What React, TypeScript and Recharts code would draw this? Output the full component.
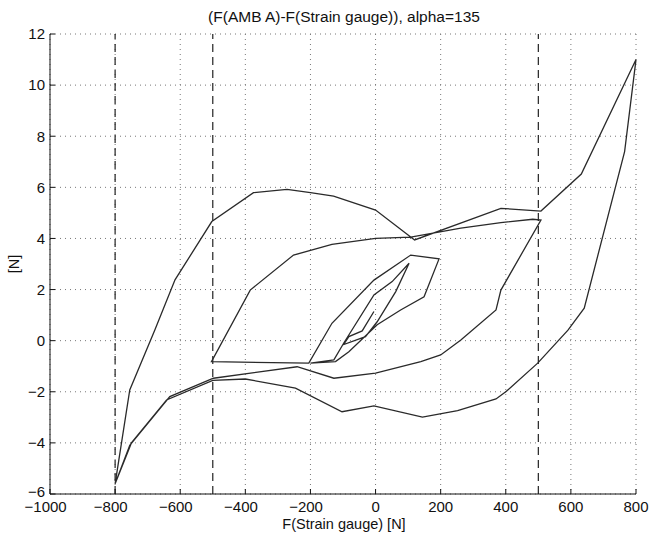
import { LineChart, Line, XAxis, YAxis, CartesianGrid, ReferenceLine } from 'recharts'

const riseX = [-800, -755, -678, -616, -503, -375, -272, -200, -129, 0, 120, 385, 508, 632, 800]
const riseY = [-5.6, -1.93, 0.42, 2.38, 4.66, 5.79, 5.92, 5.79, 5.66, 5.11, 3.94, 5.18, 5.07, 6.52, 11.0]

const fallX = [765, 641, 591, 498, 401, 370, 252, 144, -5, -103, -246, -400, -500, -642, -750, -800]
const fallY = [7.4, 1.27, 0.41, -0.88, -1.99, -2.28, -2.74, -2.99, -2.55, -2.78, -1.86, -1.5, -1.55, -2.32, -4.0, -5.6]

const rise2X = [-755, -632, -498, -241, -128, 0, 139, 200, 262, 370, 385, 508]
const rise2Y = [-4.1, -2.19, -1.47, -1.02, -1.47, -1.27, -0.82, -0.56, 0.03, 1.2, 1.98, 4.72]

const fall2X = [483, 385, 262, 108, 0, -134, -252, -385, -504]
const fall2Y = [4.75, 4.62, 4.4, 4.05, 4.0, 3.77, 3.35, 1.98, -0.82]

const rise3X = [-205, -134, -5, 108, 195]
const rise3Y = [-0.88, 0.68, 2.37, 3.35, 3.2]

const fall3X = [149, 77, 5, -82, -123, -200]
const fall3Y = [1.72, 1.2, 0.62, -0.43, -0.82, -0.88]

const rise4X = [-128, -98, -5, 51, 103]
const rise4Y = [-0.75, -0.1, 1.79, 2.31, 3.03]

const fall4X = [62, 5, -31, -98]
const fall4Y = [1.92, 0.74, 0.16, -0.15]

const rise5X = [-82, -41, -5]
const rise5Y = [0.16, 0.38, 1.14]

const xTicks = [-1000, -800, -600, -400, -200, 0, 200, 400, 600, 800]
const yTicks = [-6, -4, -2, 0, 2, 4, 6, 8, 10, 12]
const dashedAt = [-800, -500, 500]

const branches: [number[], number[]][] = [
  [riseX, riseY],
  [fallX, fallY],
  [rise2X, rise2Y],
  [fall2X, fall2Y],
  [rise3X, rise3Y],
  [fall3X, fall3Y],
  [rise4X, rise4Y],
  [fall4X, fall4Y],
  [rise5X, rise5Y],
]

const data = branches.flatMap(([xs, ys]) => xs.map((x, i) => ({ x, y: ys[i] })))

const font = '"Liberation Sans", Arial, sans-serif'
const fs = 15

const fmt = (v: number) => (v < 0 ? '\u2212' + Math.abs(v) : String(v))

// matlab centres the digits on the tick, the minus sign hangs off to the left
function XTick(props: any) {
  const { x, y, payload } = props
  const digits = String(Math.abs(payload.value)).length * 0.556 * fs
  return (
    <text x={x + digits / 2} y={y} dy="0.71em" textAnchor="end" fontSize={fs} fontFamily={font} fill="#111">
      {fmt(payload.value)}
    </text>
  )
}

function YTick(props: any) {
  const { x, y, payload } = props
  // bottom label sits a touch higher so it clears the -1000 below it
  const lift = payload.value === -6 ? -2 : 0
  return (
    <text x={x} y={y + lift} dy="0.355em" textAnchor="end" fontSize={fs} fontFamily={font} fill="#111">
      {fmt(payload.value)}
    </text>
  )
}

export default function App() {
  return (
    <div style={{ position: 'absolute', left: 0, top: 0, width: 650, height: 535, background: '#fff' }}>
      <LineChart width={650} height={535} data={data} margin={{ top: 34, right: 14, bottom: 19, left: 10 }}>
        <CartesianGrid stroke="#777" strokeDasharray="1 4" />
        <XAxis
          dataKey="x"
          type="number"
          domain={[-1000, 800]}
          ticks={xTicks}
          height={22}
          tickSize={-5}
          tickMargin={12}
          stroke="#111"
          tick={<XTick />}
          interval={0}
        />
        <XAxis
          xAxisId="top"
          orientation="top"
          dataKey="x"
          type="number"
          domain={[-1000, 800]}
          ticks={xTicks}
          height={0}
          tickSize={-5}
          stroke="#111"
          tickFormatter={() => ''}
        />
        <YAxis
          type="number"
          domain={[-6, 12]}
          ticks={yTicks}
          width={40}
          tickSize={-5}
          tickMargin={10}
          stroke="#111"
          tick={<YTick />}
          interval={0}
        />
        <YAxis
          yAxisId="right"
          orientation="right"
          type="number"
          domain={[-6, 12]}
          ticks={yTicks}
          width={0}
          tickSize={-5}
          stroke="#111"
          tickFormatter={() => ''}
        />
        {dashedAt.map((v) => (
          <ReferenceLine key={v} x={v} stroke="#222" strokeWidth={1.2} strokeDasharray="8 5" />
        ))}
        <Line
          dataKey="y"
          type="linear"
          stroke="#2a2a2a"
          strokeWidth={1.3}
          dot={false}
          isAnimationActive={false}
        />
      </LineChart>
      <svg width={650} height={535} style={{ position: 'absolute', left: 0, top: 0, pointerEvents: 'none' }}>
        <text x={344} y={22} textAnchor="middle" fontSize={15.5} fontFamily={font} fill="#111">
          (F(AMB A)-F(Strain gauge)), alpha=135
        </text>
        <text x={344} y={529} textAnchor="middle" fontSize={14.5} fontFamily={font} fill="#111">
          F(Strain gauge) [N]
        </text>
        <text
          x={19}
          y={264}
          textAnchor="middle"
          fontSize={14.5}
          fontFamily={font}
          fill="#111"
          transform="rotate(-90 19 264)"
        >
          [N]
        </text>
      </svg>
    </div>
  )
}
